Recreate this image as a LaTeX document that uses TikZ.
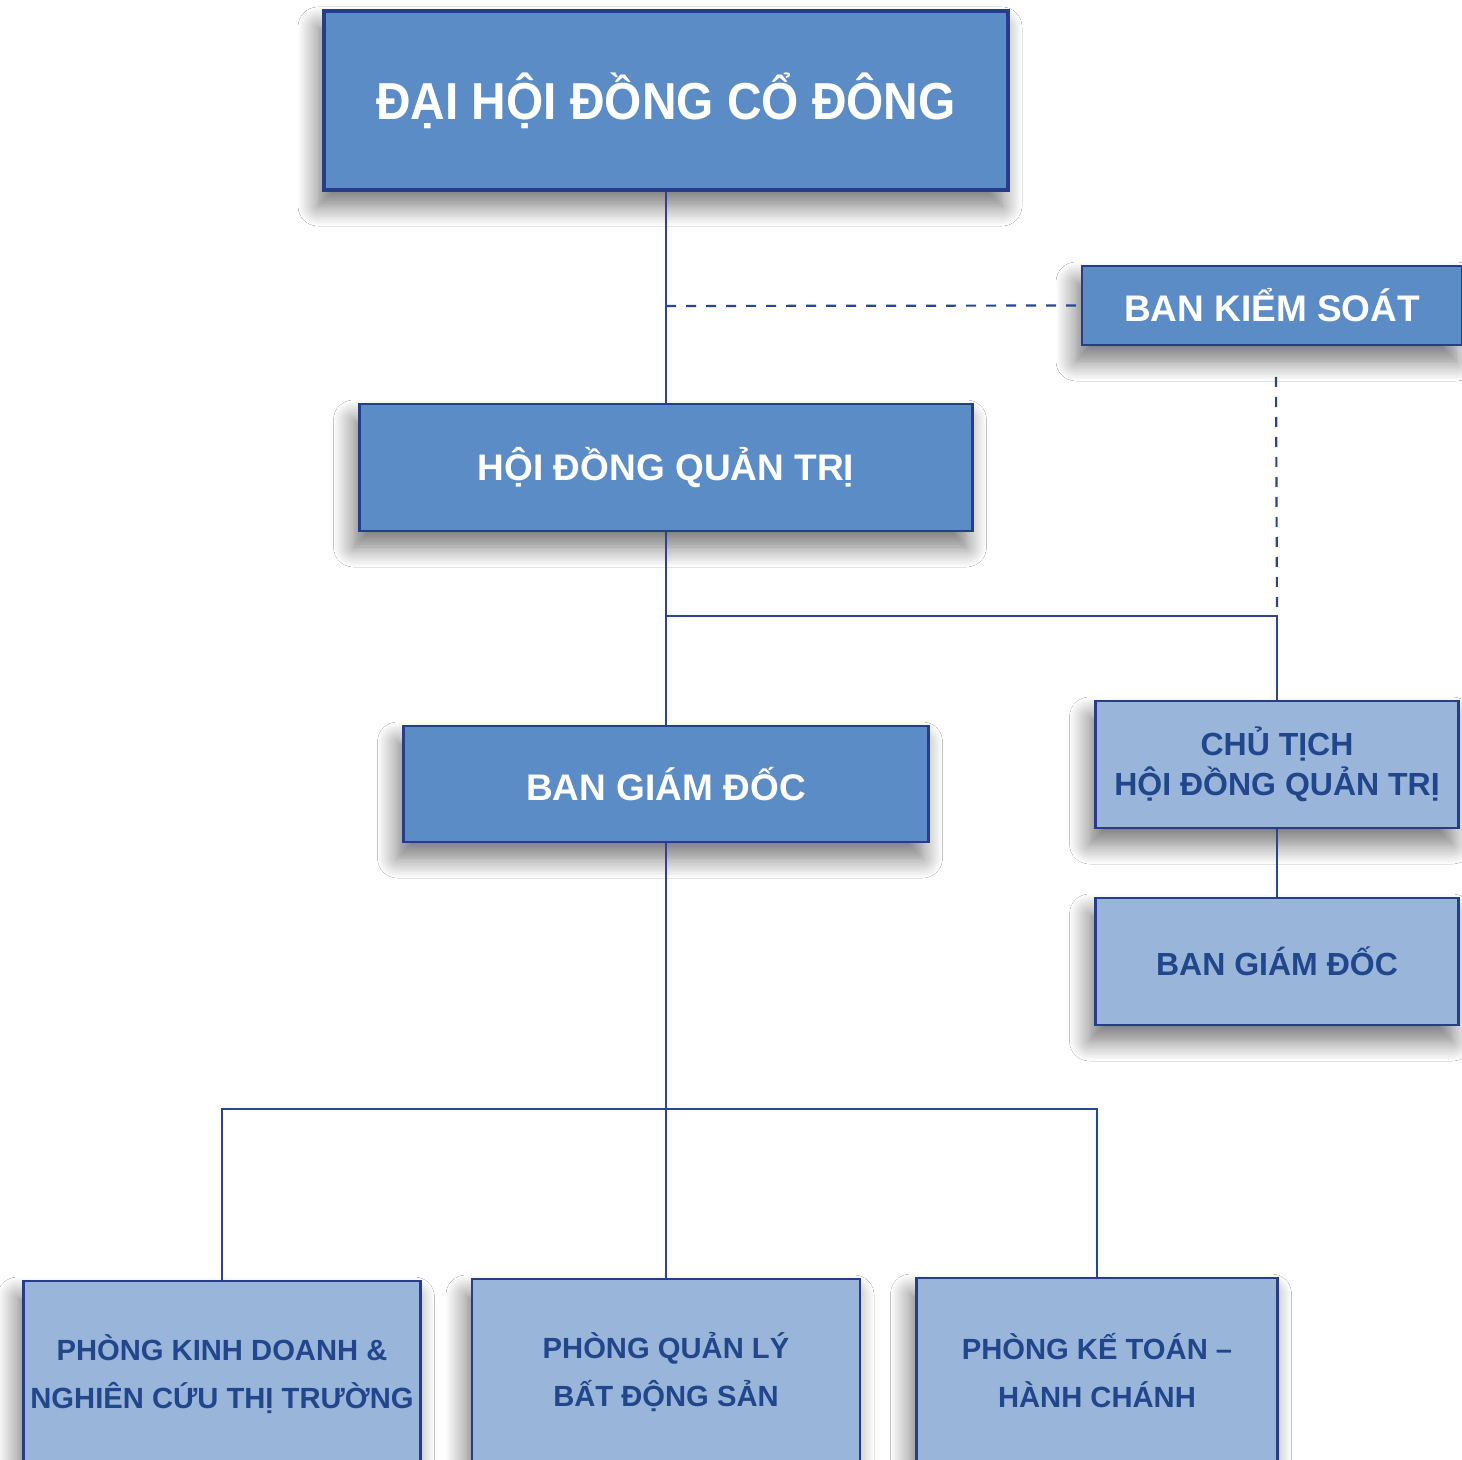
\documentclass[tikz,border=0pt]{standalone}
\usepackage{fontspec}
\setmainfont{Liberation Sans}
\newfontfamily\narrowfont{Liberation Sans}[FakeStretch=0.92]
\usetikzlibrary{shadows.blur}

\definecolor{darkbox}{RGB}{91,140,198}
\definecolor{lightbox}{RGB}{153,182,218}
\definecolor{boxline}{RGB}{38,62,138}
\definecolor{boxtext}{RGB}{33,70,140}
\definecolor{linkblue}{RGB}{42,70,145}

\tikzset{
  orgbox/.style={draw=boxline, line width=1.3pt, fill=darkbox, text=white,
    align=center, inner sep=0pt,
    blur shadow={shadow xshift=-3pt, shadow yshift=-8pt, shadow blur radius=10pt,
      shadow blur steps=14, shadow opacity=55}},
  subbox/.style={orgbox, fill=lightbox, text=boxtext},
  link/.style={draw=linkblue, line width=1.1pt},
  dashlink/.style={link, dash pattern=on 5pt off 5pt}
}

\begin{document}
\begin{tikzpicture}[x=0.5pt, y=-0.5pt]
    \fill[white] (0,0) rectangle (1462,1460);
    \useasboundingbox (0,0) rectangle (1462,1460);
    % Top levels
    \node[orgbox, line width=2pt, minimum width=342pt, minimum height=89.5pt,
      font=\narrowfont\bfseries\fontsize{26}{30}\selectfont] (dhcd) at (666,100.5) {ĐẠI HỘI ĐỒNG CỔ ĐÔNG};
    \node[orgbox, minimum width=190pt, minimum height=39.5pt,
      font=\bfseries\fontsize{18.5}{22}\selectfont] (bks) at (1272,305.5) {BAN KIỂM SOÁT};
    \node[orgbox, minimum width=306.5pt, minimum height=63.5pt,
      font=\bfseries\fontsize{18.5}{22}\selectfont] (hdqt) at (666,467.5) {HỘI ĐỒNG QUẢN TRỊ};
    \node[orgbox, minimum width=262.5pt, minimum height=58pt,
      font=\bfseries\fontsize{18.5}{22}\selectfont] (bgd) at (666,784) {BAN GIÁM ĐỐC};
    % Right branch
    \node[subbox, minimum width=181.5pt, minimum height=63.5pt,
      font=\bfseries\fontsize{16}{20}\selectfont] (ct) at (1277,764.5) {CHỦ TỊCH\\HỘI ĐỒNG QUẢN TRỊ};
    \node[subbox, minimum width=181.5pt, minimum height=63.5pt,
      font=\bfseries\fontsize{16}{20}\selectfont] (bgdct) at (1277,961.5) {BAN GIÁM ĐỐC};
    % Departments
    \node[subbox, minimum width=198.5pt, minimum height=93pt,
      font=\bfseries\fontsize{14.6}{24}\selectfont] (pkd) at (222,1374) {PHÒNG KINH DOANH \&\\NGHIÊN CỨU THỊ TRƯỜNG};
    \node[subbox, minimum width=194pt, minimum height=93pt,
      font=\bfseries\fontsize{14.6}{24}\selectfont] (pql) at (666,1372) {PHÒNG QUẢN LÝ\\BẤT ĐỘNG SẢN};
    \node[subbox, minimum width=180.5pt, minimum height=93pt,
      font=\bfseries\fontsize{14.6}{24}\selectfont] (pkt) at (1097,1371) {PHÒNG KẾ TOÁN –\\HÀNH CHÁNH};
    % Joints
    \coordinate (ks) at (666,306);
    \coordinate (ksdown) at (1276,377);
    \coordinate (split) at (666,616);
    \coordinate (splitr) at (1277,616);
    \coordinate (fork) at (666,1109);
    % Solid links
    \draw[link] (dhcd.south) -- (hdqt.north);
    \draw[link] (hdqt.south) -- (bgd.north);
    \draw[link] (split) -- (splitr) -- (ct.north);
    \draw[link] (ct.south) -- (bgdct.north);
    \draw[link] (bgd.south) -- (pql.north);
    \draw[link] (pkd.north) |- (fork) -| (pkt.north);
    % Dashed links
    \draw[dashlink] (ks) -- (bks.west);
    \draw[dashlink] (ksdown) -- (splitr);
\end{tikzpicture}
\end{document}
